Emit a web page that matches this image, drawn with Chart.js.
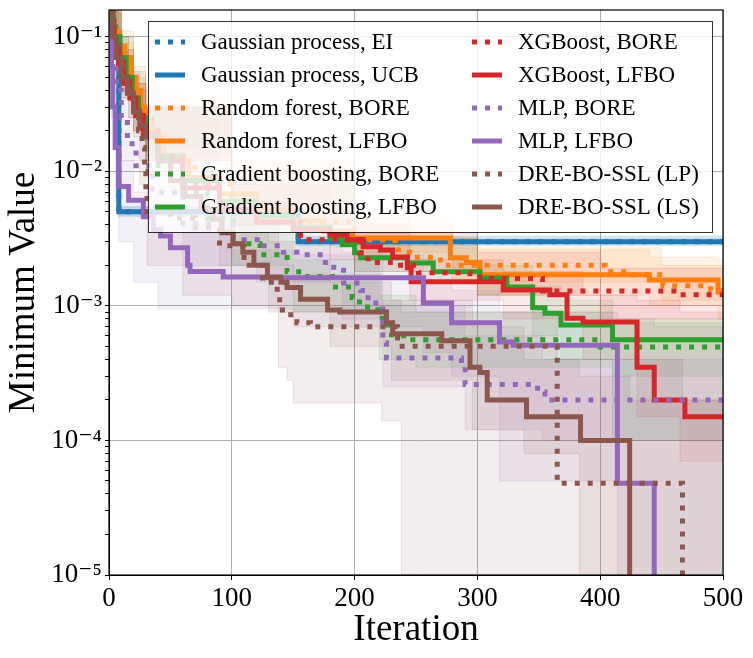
<!DOCTYPE html>
<html>
<head>
<meta charset="utf-8">
<script src="https://cdn.jsdelivr.net/npm/chart.js@4.4.0/dist/chart.umd.min.js"></script>
<style>
  html, body { margin: 0; padding: 0; background: #fff; }
</style>
</head>
<body>
<canvas id="chart" width="753" height="658"></canvas>
<script>
// axis ticks
const iterTicks = [0, 100, 200, 300, 400, 500];
const decadeTicks = [1e-5, 1e-4, 1e-3, 1e-2, 1e-1];
const decadeLabels = ["10⁻⁵", "10⁻⁴", "10⁻³", "10⁻²", "10⁻¹"];

const seriesNames = [
    "Gaussian process, EI", "Gaussian process, UCB",
    "Random forest, BORE", "Random forest, LFBO",
    "Gradient boosting, BORE", "Gradient boosting, LFBO",
    "XGBoost, BORE", "XGBoost, LFBO",
    "MLP, BORE", "MLP, LFBO",
    "DRE-BO-SSL (LP)", "DRE-BO-SSL (LS)"
];
const seriesColors = ["#1f77b4", "#1f77b4", "#ff7f0e", "#ff7f0e", "#2ca02c", "#2ca02c",
    "#d62728", "#d62728", "#9467bd", "#9467bd", "#8c564b", "#8c564b"];
const seriesDotted = [true, false, true, false, true, false, true, false, true, false, true, false];

// [iteration, minimum value] -- value holds from that iteration on
const gpEi = [[0, 0.105], [8, 0.005], [154, 0.003], [500, 0.003]];
const gpUcb = [[0, 0.105], [8, 0.005], [154, 0.003], [500, 0.003]];
const rfBore = [[0, 0.14], [5, 0.09], [10, 0.06], [16, 0.04], [22, 0.03], [30, 0.02], [45, 0.012], [70, 0.008],
    [100, 0.0058], [150, 0.0042], [200, 0.0031], [233, 0.0026], [242, 0.0025], [249, 0.0023], [270, 0.002],
    [404, 0.00179], [424, 0.0017], [451, 0.00141], [490, 0.0013], [500, 0.0013]];
const rfLfbo = [[0, 0.15], [3, 0.11], [8, 0.085], [13, 0.07], [18, 0.05], [22, 0.04], [26, 0.03], [29, 0.024],
    [35, 0.018], [45, 0.012], [65, 0.009], [90, 0.0068], [120, 0.0052], [150, 0.0043], [175, 0.0036],
    [198, 0.0032], [278, 0.00228], [291, 0.0021], [302, 0.0017], [440, 0.00156], [496, 0.00127], [500, 0.00127]];
const gbBore = [[0, 0.14], [5, 0.08], [10, 0.05], [15, 0.035], [20, 0.025], [28, 0.018], [40, 0.011], [60, 0.007],
    [80, 0.0045], [101, 0.0029], [123, 0.0024], [145, 0.00179], [160, 0.00165], [182, 0.00138], [198, 0.00115],
    [204, 0.00098], [219, 0.00081], [226, 0.00072], [230, 0.00061], [240, 0.00056], [400, 0.000495], [500, 0.000495]];
const gbLfbo = [[0, 0.14], [4, 0.1], [9, 0.07], [14, 0.05], [19, 0.035], [24, 0.025], [30, 0.019], [40, 0.013],
    [60, 0.0085], [90, 0.006], [120, 0.0047], [150, 0.0038], [180, 0.0032], [190, 0.00284], [200, 0.00248],
    [205, 0.00228], [243, 0.00208], [264, 0.00179], [302, 0.00162], [324, 0.00138], [345, 0.00097],
    [355, 0.00088], [368, 0.00072], [410, 0.00056], [500, 0.00056]];
const xgbBore = [[0, 0.13], [4, 0.09], [8, 0.065], [12, 0.05], [17, 0.038], [22, 0.028], [28, 0.02], [40, 0.013],
    [60, 0.008], [90, 0.0055], [120, 0.0042], [156, 0.0031], [204, 0.00248], [211, 0.0021], [233, 0.002],
    [252, 0.00176], [294, 0.00164], [305, 0.0016], [353, 0.00129], [465, 0.00121], [500, 0.00121]];
const xgbLfbo = [[0, 0.12], [4, 0.085], [8, 0.06], [12, 0.045], [17, 0.035], [22, 0.026], [28, 0.019], [40, 0.012],
    [60, 0.0075], [90, 0.0052], [120, 0.0042], [150, 0.0037], [180, 0.00337], [194, 0.0031], [207, 0.00275],
    [221, 0.0026], [231, 0.00231], [243, 0.00192], [246, 0.00151], [321, 0.00131], [359, 0.00121],
    [373, 0.00081], [386, 0.00076], [430, 0.00035], [444, 0.0002], [469, 0.00015], [500, 0.00015]];
const mlpBore = [[0, 0.13], [3, 0.07], [6, 0.04], [10, 0.025], [15, 0.016], [22, 0.011], [35, 0.007], [60, 0.0041],
    [101, 0.0031], [123, 0.0028], [142, 0.0025], [153, 0.0024], [172, 0.0021], [180, 0.00194], [191, 0.00148],
    [205, 0.0013], [211, 0.00105], [223, 0.00053], [226, 0.00041], [287, 0.00035], [290, 0.00026],
    [349, 0.00023], [355, 0.0002], [500, 0.0002]];
const mlpLfbo = [[0, 0.12], [2, 0.06], [3, 0.03], [5, 0.015], [8, 0.0077], [16, 0.0061], [28, 0.0046], [36, 0.0037],
    [42, 0.0033], [50, 0.0027], [64, 0.002], [66, 0.0018], [93, 0.00164], [129, 0.00162], [256, 0.00105],
    [279, 0.00075], [318, 0.00054], [329, 0.00051], [414, 0.000048], [444, 0.000001], [500, 0.000001]];
const dreLp = [[0, 0.15], [4, 0.1], [8, 0.07], [12, 0.05], [16, 0.038], [20, 0.028], [24, 0.02], [27, 0.015],
    [29, 0.01], [30, 0.007], [31, 0.005], [50, 0.0045], [70, 0.0038], [90, 0.0028], [110, 0.002], [125, 0.0015],
    [137, 0.00117], [139, 0.00093], [148, 0.0008], [153, 0.00075], [164, 0.0007], [235, 0.0005],
    [365, 0.000048], [467, 0.000001], [500, 0.000001]];
const dreLs = [[0, 0.16], [3, 0.1], [6, 0.07], [10, 0.05], [15, 0.038], [20, 0.028], [25, 0.022], [30, 0.018],
    [40, 0.012], [50, 0.0085], [62, 0.0065], [75, 0.0052], [85, 0.0044], [92, 0.0035], [101, 0.0029],
    [109, 0.0025], [118, 0.002], [129, 0.00164], [140, 0.0015], [145, 0.00137], [156, 0.00112], [178, 0.00093],
    [188, 0.0009], [226, 0.00075], [231, 0.00062], [271, 0.00055], [294, 0.00035], [302, 0.00032],
    [308, 0.0002], [340, 0.00015], [384, 0.0001], [424, 0.000001], [500, 0.000001]];

// [iteration, lower, upper] of the shaded spread
const gpEiBand = [[0, 0.09, 0.12], [8, 0.0046, 0.0055], [154, 0.0028, 0.0033], [500, 0.0028, 0.0033]];
const gpUcbBand = [[0, 0.09, 0.12], [8, 0.0047, 0.0054], [154, 0.0029, 0.0032], [500, 0.0029, 0.0032]];
const rfBoreBand = [[0, 0.11, 0.16], [10, 0.04, 0.09], [20, 0.02, 0.045], [30, 0.012, 0.03], [100, 0.004, 0.01],
    [200, 0.0022, 0.004], [280, 0.0015, 0.0027], [450, 0.0011, 0.002], [500, 0.0011, 0.002]];
const rfLfboBand = [[0, 0.11, 0.16], [10, 0.05, 0.11], [20, 0.025, 0.06], [30, 0.015, 0.035], [100, 0.005, 0.012],
    [200, 0.0025, 0.0045], [280, 0.0016, 0.0032], [300, 0.0012, 0.0026], [440, 0.001, 0.0023],
    [496, 0.0008, 0.0022], [500, 0.0008, 0.0022]];
const gbBoreBand = [[0, 0.1, 0.16], [10, 0.035, 0.07], [20, 0.018, 0.04], [30, 0.012, 0.028], [100, 0.002, 0.005],
    [150, 0.0009, 0.0022], [220, 0.0004, 0.0012], [250, 0.00035, 0.0009], [410, 0.0003, 0.0008],
    [500, 0.0003, 0.0008]];
const gbLfboBand = [[0, 0.1, 0.16], [10, 0.045, 0.1], [20, 0.025, 0.05], [30, 0.015, 0.03], [100, 0.004, 0.008],
    [200, 0.0018, 0.0032], [300, 0.0012, 0.002], [345, 0.0006, 0.0014], [368, 0.0004, 0.0011],
    [410, 0.0001, 0.00075], [500, 0.0001, 0.00075]];
const xgbBoreBand = [[0, 0.1, 0.16], [10, 0.04, 0.08], [20, 0.02, 0.045], [30, 0.012, 0.03], [100, 0.004, 0.008],
    [200, 0.0018, 0.0035], [300, 0.0012, 0.0025], [400, 0.0008, 0.0019], [500, 0.0008, 0.0019]];
const xgbLfboBand = [[0, 0.09, 0.15], [10, 0.035, 0.08], [20, 0.02, 0.045], [30, 0.013, 0.03], [100, 0.004, 0.009],
    [180, 0.0022, 0.0045], [245, 0.0011, 0.0022], [321, 0.0008, 0.0018], [386, 0.0004, 0.0012],
    [430, 0.00015, 0.0011], [465, 0.00007, 0.0009], [500, 0.00007, 0.0009]];
const mlpBoreBand = [[0, 0.09, 0.16], [5, 0.03, 0.08], [10, 0.012, 0.04], [60, 0.002, 0.006], [120, 0.0015, 0.004],
    [190, 0.0008, 0.0025], [223, 0.00025, 0.001], [290, 0.00012, 0.0006], [353, 0.0001, 0.0004],
    [500, 0.0001, 0.0004]];
const mlpLfboBand = [[0, 0.07, 0.15], [2, 0.025, 0.09], [5, 0.006, 0.03], [8, 0.003, 0.012], [20, 0.0015, 0.007],
    [40, 0.00095, 0.004], [100, 0.00095, 0.0026], [150, 0.0007, 0.0024], [256, 0.00045, 0.0018],
    [279, 0.0003, 0.0013], [318, 0.00005, 0.0009], [414, 0.000001, 0.0008], [444, 0.000001, 0.0007],
    [500, 0.000001, 0.0007]];
const dreLpBand = [[0, 0.11, 0.16], [8, 0.05, 0.1], [16, 0.025, 0.055], [25, 0.008, 0.03], [31, 0.002, 0.009],
    [60, 0.0012, 0.006], [100, 0.001, 0.004], [138, 0.00035, 0.0025], [145, 0.00028, 0.002],
    [150, 0.00019, 0.0017], [222, 0.00014, 0.0011], [238, 0.000001, 0.0009], [365, 0.000001, 0.0004],
    [467, 0.000001, 0.0002], [500, 0.000001, 0.0002]];
const dreLsBand = [[0, 0.11, 0.16], [8, 0.045, 0.1], [16, 0.025, 0.055], [30, 0.01, 0.03], [90, 0.002, 0.006],
    [130, 0.0009, 0.003], [180, 0.0005, 0.0015], [230, 0.00028, 0.0011], [296, 0.00012, 0.0007],
    [338, 0.00008, 0.0004], [383, 0.000001, 0.0003], [424, 0.000001, 0.0002], [500, 0.000001, 0.0002]];

const seriesSteps = [gpEi, gpUcb, rfBore, rfLfbo, gbBore, gbLfbo, xgbBore, xgbLfbo, mlpBore, mlpLfbo, dreLp, dreLs];
const seriesBands = [gpEiBand, gpUcbBand, rfBoreBand, rfLfboBand, gbBoreBand, gbLfboBand,
    xgbBoreBand, xgbLfboBand, mlpBoreBand, mlpLfboBand, dreLpBand, dreLsBand];

const Y_MIN = 1e-5;
const Y_MAX = 0.158;
const SERIF = "'Liberation Serif', 'DejaVu Serif', serif";

//hex colour to rgba string
const rgba = (hex, a) => {
    const n = parseInt(hex.slice(1), 16);
    return `rgba(${(n >> 16) & 255}, ${(n >> 8) & 255}, ${n & 255}, ${a})`;
};
const isDecade = (v) => decadeTicks.some(d => Math.abs(v / d - 1) < 1e-6);

//build datasets: shaded spreads first, lines on top
// stepped "before": hold the value horizontally, then drop at the next iteration
const datasets = [];
seriesBands.forEach((band, i) => {
    const edge = rgba(seriesColors[i], 0.15);
    datasets.push({
        data: band.map(b => ({x: b[0], y: b[1]})),
        borderColor: edge, borderWidth: 1, pointRadius: 0,
        stepped: "before", fill: false, order: 200 - i,
    });
    datasets.push({
        data: band.map(b => ({x: b[0], y: b[2]})),
        borderColor: edge, borderWidth: 1, pointRadius: 0,
        backgroundColor: rgba(seriesColors[i], 0.1),
        stepped: "before", fill: "-1", order: 200 - i,
    });
});
seriesSteps.forEach((steps, i) => {
    datasets.push({
        label: seriesNames[i],
        data: steps.map(s => ({x: s[0], y: s[1]})),
        borderColor: seriesColors[i],
        borderWidth: 5,
        borderDash: seriesDotted[i] ? [5, 8] : [],
        pointRadius: 0,
        stepped: "before",
        fill: false,
        order: 50 - i,
    });
});

//frame on all four sides + legend box inside the plot
const frameAndLegend = {
    id: "frameAndLegend",
    afterDraw(chart) {
        const ctx = chart.ctx;
        const a = chart.chartArea;
        ctx.save();
        ctx.strokeStyle = "#000";
        ctx.lineWidth = 1.2;
        ctx.strokeRect(a.left, a.top, a.right - a.left, a.bottom - a.top);

        // legend
        const bx = a.left + 39, by = a.top + 11, bw = 564, bh = 211;
        ctx.fillStyle = "rgba(255,255,255,0.8)";
        ctx.fillRect(bx, by, bw, bh);
        ctx.strokeStyle = "rgba(0,0,0,0.8)";
        ctx.lineWidth = 1;
        ctx.strokeRect(bx + 0.5, by + 0.5, bw, bh);
        const items = chart.data.datasets.filter(d => d.label);
        ctx.font = "23px " + SERIF;
        ctx.textBaseline = "middle";
        items.forEach((d, k) => {
            const col = Math.floor(k / 6), row = k % 6;
            const x0 = bx + 7 + col * 317;
            const y = by + 21 + row * 33;
            ctx.beginPath();
            ctx.setLineDash(d.borderDash);
            ctx.lineWidth = 5;
            ctx.lineCap = "butt";
            ctx.strokeStyle = d.borderColor;
            ctx.moveTo(x0, y);
            ctx.lineTo(x0 + 30, y);
            ctx.stroke();
            ctx.setLineDash([]);
            ctx.fillStyle = "#000";
            ctx.fillText(d.label, x0 + 46, y + 1);
        });
        ctx.restore();
    }
};

new Chart(document.getElementById("chart"), {
    type: "line",
    data: {datasets: datasets},
    plugins: [frameAndLegend],
    options: {
        responsive: false,
        animation: false,
        layout: {padding: {top: 10, right: 30, left: 0, bottom: 0}},
        plugins: {
            legend: {display: false},
            tooltip: {enabled: false},
        },
        scales: {
            x: {
                type: "linear",
                min: iterTicks[0],
                max: iterTicks[iterTicks.length - 1],
                afterBuildTicks: (scale) => {
                    scale.ticks = iterTicks.map(v => ({value: v}));
                },
                afterFit: (scale) => {
                    scale.height = 83;
                    scale.paddingLeft = 0;
                    scale.paddingRight = 0;
                },
                ticks: {
                    autoSkip: false, maxRotation: 0, padding: 3, color: "#000",
                    font: {family: SERIF, size: 27},
                    callback: (v) => String(v),
                },
                grid: {color: "#b0b0b0", lineWidth: 1, tickColor: "#000", tickLength: 5},
                border: {color: "#000", width: 1},
                title: {
                    display: true, text: "Iteration", color: "#000",
                    font: {family: SERIF, size: 37},
                    padding: {top: 0, bottom: 6},
                },
            },
            y: {
                type: "logarithmic",
                min: Y_MIN,
                max: Y_MAX,
                afterBuildTicks: (scale) => {
                    const ticks = [];
                    decadeTicks.forEach(d => {
                        for (let m = 1; m <= 9; m++) {
                            if (m * d <= Y_MAX) ticks.push({value: m * d});
                        }
                    });
                    scale.ticks = ticks;
                },
                afterFit: (scale) => {
                    scale.width = 109;
                    scale.paddingTop = 0;
                    scale.paddingBottom = 0;
                },
                ticks: {
                    autoSkip: false, padding: 3, color: "#000",
                    font: {family: SERIF, size: 27},
                    callback: (v) => {
                        const k = decadeTicks.findIndex(d => Math.abs(v / d - 1) < 1e-6);
                        return k >= 0 ? decadeLabels[k] : "";
                    },
                },
                grid: {
                    color: (c) => (c.tick && isDecade(c.tick.value)) ? "#b0b0b0" : "rgba(0,0,0,0)",
                    lineWidth: 1, tickColor: "#000", tickLength: 4,
                },
                border: {color: "#000", width: 1},
                title: {
                    display: true, text: "Minimum Value", color: "#000",
                    font: {family: SERIF, size: 37},
                    padding: {top: 2, bottom: 0},
                },
            },
        },
    },
});
</script>
</body>
</html>
